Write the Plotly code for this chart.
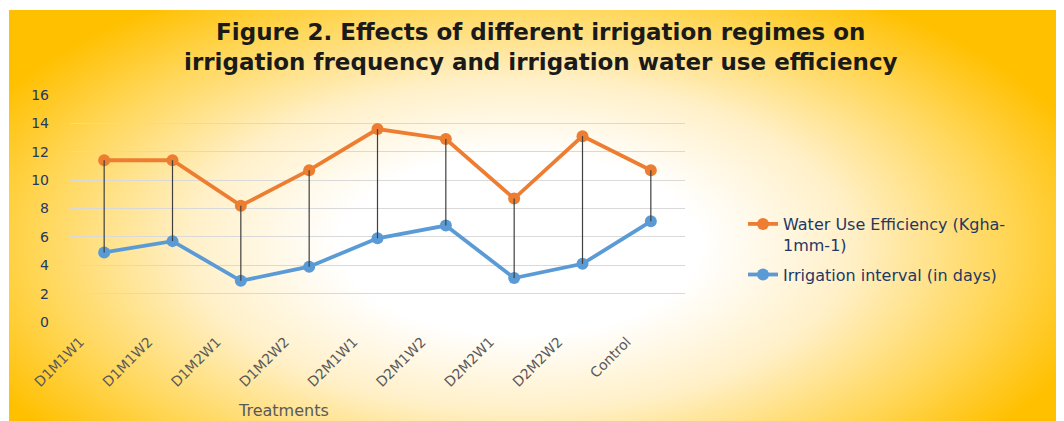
import plotly.graph_objects as go

W, H = 1064, 421
O = 8  # page body margin: window pixel = paper pixel + O

treatments = ["D1M1W1", "D1M1W2", "D1M2W1", "D1M2W2", "D2M1W1",
              "D2M1W2", "D2M2W1", "D2M2W2", "Control"]
wue = [11.4, 11.4, 8.2, 10.7, 13.6, 12.9, 8.7, 13.1, 10.7]
interval = [4.9, 5.7, 2.9, 3.9, 5.9, 6.8, 3.1, 4.1, 7.1]
y_ticks = [0, 2, 4, 6, 8, 10, 12, 14, 16]

series_names = ["Water Use Efficiency (Kgha-<br>1mm-1)", "Irrigation interval (in days)"]
title_lines = ["Figure 2. Effects of different irrigation regimes on",
               "irrigation frequency and irrigation water use efficiency"]
x_title = "Treatments"

ORANGE = "#ED7D31"
BLUE = "#5B9BD5"
GOLD = "#FFC000"
NAVY = "#1F3864"
GREY_TXT = "#595959"


def fx(p):
    """window pixel x -> paper fraction"""
    return (p - O) / W


def fy(p):
    """window pixel y -> paper fraction"""
    return 1 - (p - O) / H


# chart area (window pixels)
CA_L, CA_T = 9, 10
# plot area (window pixels)
PL, PR, PT, PB = 70, 685, 95, 322

fig = go.Figure()

# radial gradient background on its own hidden axes (window-pixel units)
cx, cy, rx, ry = 520, 245, 600, 300
fig.add_trace(go.Scatter(
    x=[cx - rx, cx + rx, cx + rx, cx - rx, cx - rx],
    y=[cy - ry, cy - ry, cy + ry, cy + ry, cy - ry],
    mode="lines", fill="toself", line=dict(width=0, color="rgba(0,0,0,0)"),
    fillgradient=dict(type="radial",
                      colorscale=[[0, "#FFFFFF"], [0.3, "#FFFFFF"], [0.55, "#FFF0C8"],
                                  [0.8, "#FFD75A"], [1, GOLD]]),
    hoverinfo="skip", showlegend=False, xaxis="x", yaxis="y"))

# main series
fig.add_trace(go.Scatter(
    x=treatments, y=wue, name=series_names[0], mode="lines+markers",
    legendgroup="a",
    line=dict(color=ORANGE, width=3.8), marker=dict(color=ORANGE, size=12),
    xaxis="x2", yaxis="y2"))
fig.add_trace(go.Scatter(
    x=treatments, y=interval, name=series_names[1], mode="lines+markers",
    legendgroup="b",
    line=dict(color=BLUE, width=3.8), marker=dict(color=BLUE, size=12),
    xaxis="x2", yaxis="y2"))

# drop lines between the two series
dx, dy = [], []
for t, a, b in zip(treatments, wue, interval):
    dx += [t, t, None]
    dy += [a, b, None]
fig.add_trace(go.Scatter(
    x=dx, y=dy, mode="lines", line=dict(color="#3F3F3F", width=1.2),
    showlegend=False, hoverinfo="skip", xaxis="x2", yaxis="y2"))

shapes = [
    dict(type="rect", xref="paper", yref="paper", x0=fx(CA_L), x1=1, y0=0, y1=fy(CA_T),
         fillcolor=GOLD, line=dict(width=0), layer="below"),
]

annotations = [
    dict(text="<b>" + title_lines[0] + "<br>" + title_lines[1] + "</b>",
         x=fx(541), y=fy(47), xref="paper", yref="paper",
         showarrow=False, xanchor="center", yanchor="middle", align="center",
         font=dict(family="DejaVu Sans", size=23, color="#1A1A1A")),
    dict(text=x_title, x=fx(283), y=fy(410), xref="paper", yref="paper",
         showarrow=False, xanchor="center", yanchor="middle",
         font=dict(family="DejaVu Sans", size=16, color=GREY_TXT)),
]

fig.update_layout(
    template="none",
    width=W, height=H, autosize=False,
    margin=dict(l=0, r=0, t=0, b=0, pad=0, autoexpand=False),
    paper_bgcolor="white",
    plot_bgcolor="rgba(0,0,0,0)",
    shapes=shapes,
    annotations=annotations,
    xaxis=dict(domain=[fx(CA_L), 1], range=[CA_L, W + O], visible=False, fixedrange=True,
               automargin=False),
    yaxis=dict(domain=[0, fy(CA_T)], range=[H + O, CA_T], visible=False, fixedrange=True,
               automargin=False),
    xaxis2=dict(domain=[fx(PL), fx(PR)], anchor="y2", type="category", automargin=False,
                categoryorder="array", categoryarray=treatments,
                range=[-0.5, len(treatments) - 0.5],
                showgrid=False, zeroline=False, showline=False, ticks="",
                tickangle=-45, ticklabelshift=-24, ticklabelstandoff=8,
                tickfont=dict(family="DejaVu Sans", size=14, color=GREY_TXT)),
    yaxis2=dict(domain=[fy(PB), fy(PT)], anchor="x2", range=[0, 16], automargin=False,
                tickvals=y_ticks, showgrid=True, gridcolor="#D9D9D9", gridwidth=1,
                zeroline=False, showline=False, ticks="", ticklabelstandoff=20,
                tickfont=dict(family="DejaVu Sans", size=14, color=NAVY)),
    legend=dict(x=fx(743), y=fy(207), xanchor="left", yanchor="top",
                bgcolor="rgba(0,0,0,0)", valign="top", borderwidth=0,
                tracegroupgap=6,
                font=dict(family="DejaVu Sans", size=16, color=NAVY)),
    showlegend=True,
)

fig.write_html("out.html")
